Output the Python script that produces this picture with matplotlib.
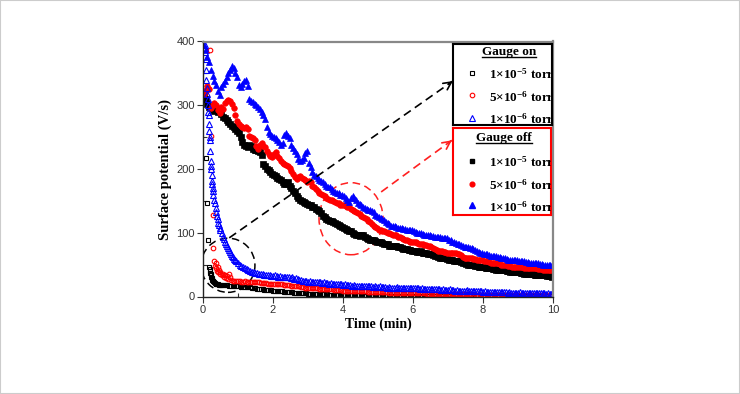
import numpy as np
import matplotlib
matplotlib.use("Agg")
import matplotlib.pyplot as plt
from matplotlib.patches import Ellipse, Rectangle
from matplotlib.lines import Line2D
from matplotlib.transforms import IdentityTransform

plt.rcParams["mathtext.default"] = "regular"

# ---------------- data ----------------
# Gauge off (filled markers), sampled every 0.05 min
t_off = np.round(np.arange(0.025, 10.0, 0.05), 3)
v_off_1e5 = [314, 310, 302, 298, 296, 294, 291, 293, 290, 294,
             286, 282, 280, 277, 274, 270, 268, 266, 262, 259,
             256, 250, 242, 238, 236, 234, 238, 236, 232, 230,
             230, 228, 226, 222, 208, 204, 200, 198, 195, 192,
             190, 189, 186, 184, 182, 180, 176, 177, 179, 174,
             170, 166, 163, 158, 155, 152, 150, 148, 146, 145,
             144, 143, 141, 140, 138, 136, 134, 131, 127, 124,
             122, 120, 119, 118, 117, 115, 113, 112, 110, 109,
             107, 106, 104, 103, 102, 100, 98, 97, 96, 95,
             97, 96, 94, 92, 90, 89, 89, 88, 87, 86,
             85, 85, 84, 83, 83, 82, 80, 80, 79, 79,
             80, 78, 77, 76, 75, 75, 74, 73, 73, 72,
             72, 71, 70, 70, 71, 69, 68, 68, 67, 66,
             66, 65, 63, 63, 62, 61, 61, 60, 60, 59,
             58, 58, 57, 56, 56, 55, 55, 54, 52, 52,
             51, 50, 50, 49, 49, 48, 48, 47, 47, 46,
             46, 45, 45, 44, 44, 43, 43, 42, 42, 41,
             41, 41, 41, 40, 40, 39, 39, 39, 39, 38,
             38, 37, 37, 36, 36, 35, 35, 35, 35, 34,
             34, 34, 33, 33, 33, 33, 32, 32, 32, 31]
v_off_5e6 = [318, 324, 330, 326, 296, 300, 303, 300, 292, 288,
             298, 294, 304, 306, 308, 306, 302, 296, 284, 276,
             270, 268, 266, 264, 266, 262, 252, 250, 248, 246,
             236, 232, 238, 240, 236, 234, 228, 224, 221, 219,
             224, 226, 220, 218, 213, 210, 208, 206, 205, 202,
             197, 192, 187, 185, 188, 189, 186, 184, 182, 180,
             181, 179, 174, 171, 168, 166, 163, 161, 159, 157,
             155, 153, 152, 151, 150, 149, 147, 146, 144, 143,
             143, 142, 141, 140, 138, 136, 134, 133, 131, 129,
             127, 125, 123, 121, 119, 117, 113, 111, 109, 107,
             105, 104, 103, 102, 101, 100, 99, 98, 97, 97,
             96, 94, 93, 91, 90, 89, 88, 87, 86, 86,
             85, 85, 84, 83, 82, 82, 81, 81, 80, 79,
             78, 76, 75, 73, 72, 72, 71, 70, 70, 69,
             69, 68, 68, 68, 68, 67, 67, 65, 62, 61,
             60, 61, 61, 60, 59, 59, 58, 58, 57, 57,
             56, 56, 55, 54, 53, 53, 52, 52, 52, 51,
             50, 50, 49, 49, 48, 48, 47, 47, 47, 46,
             46, 46, 46, 45, 45, 45, 45, 44, 44, 44,
             44, 43, 43, 43, 42, 42, 42, 42, 41, 41]
v_off_1e6 = [395, 386, 375, 368, 356, 346, 338, 332, 322, 316,
             328, 334, 338, 344, 350, 356, 362, 358, 350, 344,
             332, 328, 334, 338, 340, 330, 310, 306, 305, 302,
             301, 298, 294, 290, 284, 278, 266, 258, 255, 252,
             250, 248, 245, 242, 238, 240, 254, 256, 252, 248,
             238, 233, 228, 224, 216, 212, 214, 218, 225, 229,
             210, 203, 195, 191, 189, 186, 183, 181, 179, 176,
             174, 172, 171, 169, 166, 164, 163, 162, 160, 159,
             157, 154, 151, 149, 155, 157, 154, 152, 147, 145,
             144, 141, 139, 137, 136, 135, 134, 132, 128, 126,
             125, 123, 122, 120, 117, 115, 113, 111, 110, 110,
             109, 108, 107, 107, 106, 106, 105, 105, 104, 104,
             102, 101, 100, 100, 99, 98, 97, 97, 96, 96,
             95, 95, 94, 94, 93, 93, 92, 92, 91, 91,
             89, 88, 86, 85, 84, 83, 82, 81, 79, 78,
             77, 77, 76, 76, 75, 73, 71, 70, 69, 68,
             67, 67, 66, 65, 64, 64, 63, 63, 62, 62,
             61, 61, 60, 59, 58, 58, 57, 57, 57, 57,
             56, 56, 55, 55, 54, 54, 53, 53, 52, 52,
             52, 52, 51, 51, 50, 50, 50, 50, 49, 49]

# Gauge on (open markers): fast initial decay, then 0.05-min tail from 2 to 9.95 min
t_on_tail = np.round(np.arange(2.0, 9.99, 0.05), 3)

t_on_1e5_head = [0.10, 0.12, 0.15, 0.18, 0.19, 0.20, 0.21, 0.22, 0.23, 0.24,
                 0.25, 0.26, 0.27, 0.28, 0.30, 0.32, 0.34, 0.36, 0.38, 0.40,
                 0.43, 0.46, 0.49, 0.52, 0.55, 0.60, 0.65, 0.70, 0.75, 0.80,
                 0.85, 0.90, 0.95, 1.00, 1.05, 1.10, 1.15, 1.20, 1.25, 1.30,
                 1.35, 1.40, 1.45, 1.50, 1.55, 1.60, 1.65, 1.70, 1.75, 1.80,
                 1.85, 1.90, 1.95]
v_on_1e5_head = [217, 146, 89, 47, 43, 40, 37, 35, 33, 31,
                 29, 27, 26, 25, 24, 22, 21, 20, 20, 19,
                 19, 18.5, 18.5, 18, 18, 18, 17.5, 17.5, 17, 17,
                 17, 16.5, 16.5, 16, 16, 15.5, 15.5, 15, 15, 15,
                 14.5, 14, 13.5, 13, 12.5, 12, 11.5, 11, 10.5, 10,
                 10, 9.5, 9.5]
v_on_1e5_tail = [9, 9, 8.5, 8.5, 8, 8, 7.5, 7.5, 7, 7,
                 6.5, 6.5, 6, 6, 5.5, 5.5, 5, 5, 5, 5,
                 4.5, 4.5, 4.5, 4.5, 4, 4, 4, 4, 3.5, 3.5,
                 3.5, 3.5, 3, 3, 3, 3, 2.5, 2.5, 2.5, 2.5,
                 2.2, 2.2, 2, 2, 2, 2, 1.8, 1.8, 1.6, 1.6,
                 1.5, 1.5, 1.4, 1.4, 1.3, 1.3, 1.2, 1.2, 1.1, 1.1,
                 1, 1, 1, 1, 1, 1, 1, 1, 1, 1,
                 1, 1, 1, 1, 1, 1, 1, 1, 1, 1,
                 1, 1, 1, 1, 1, 1, 1, 1, 1, 1,
                 1, 1, 1, 1, 1, 1, 1, 1, 1, 1,
                 1, 1, 1, 1, 1, 1, 1, 1, 1, 1,
                 1, 1, 1, 1, 1, 1, 1, 1, 1, 1,
                 1, 1, 1, 1, 1, 1, 1, 1, 1, 1,
                 1, 1, 1, 1, 1, 1, 1, 1, 1, 1,
                 1, 1, 1, 1, 1, 1, 1, 1, 1, 1,
                 1, 1, 1, 1, 1, 1, 1, 1, 1, 1]

t_on_5e6_head = [0.19, 0.24, 0.29, 0.30, 0.32, 0.34, 0.36, 0.38, 0.40, 0.42,
                 0.44, 0.46, 0.48, 0.50, 0.53, 0.56, 0.59, 0.62, 0.65, 0.68,
                 0.71, 0.74, 0.77, 0.80, 0.85, 0.90, 0.95, 1.00, 1.05, 1.10,
                 1.15, 1.20, 1.25, 1.30, 1.35, 1.40, 1.45, 1.50, 1.55, 1.60,
                 1.65, 1.70, 1.75, 1.80, 1.85, 1.90, 1.95]
v_on_5e6_head = [387, 252, 128, 76, 55, 48, 52, 44, 40, 46,
                 38, 42, 35, 38, 33, 36, 31, 34, 29, 32,
                 28, 35, 30, 26, 25, 24, 25, 24, 24, 23,
                 23, 24, 23, 23, 23, 23, 22, 22, 22, 22,
                 21, 21, 21, 21, 20, 20, 20]
v_on_5e6_tail = [20, 20, 19, 19, 19, 19, 18, 18, 18, 18,
                 17, 17, 16, 16, 16, 16, 15, 15, 14, 14,
                 14, 14, 13, 13, 13, 13, 12, 12, 12, 12,
                 12, 11, 11, 11, 11, 10, 10, 10, 10, 10,
                 9, 9, 9, 9, 9, 9, 8, 8, 8, 8,
                 8, 8, 8, 8, 7, 7, 7, 7, 7, 7,
                 7, 7, 6.5, 6.5, 6.5, 6.5, 6, 6, 6, 6,
                 6, 6, 6, 6, 5.5, 5.5, 5.5, 5.5, 5.5, 5.5,
                 5, 5, 5, 5, 5, 5, 5, 5, 4.5, 4.5,
                 4.5, 4.5, 4.5, 4.5, 4.5, 4.5, 4, 4, 4, 4,
                 4, 4, 4, 4, 4, 4, 3.5, 3.5, 3.5, 3.5,
                 3.5, 3.5, 3.5, 3.5, 3, 3, 3, 3, 3, 3,
                 3, 3, 3, 3, 3, 3, 2.5, 2.5, 2.5, 2.5,
                 2.5, 2.5, 2.5, 2.5, 2.5, 2.5, 2.5, 2.5, 2.5, 2.5,
                 2, 2, 2, 2, 2, 2, 2, 2, 2, 2,
                 2, 2, 2, 2, 2, 2, 2, 2, 2, 2]

t_on_1e6_head = [0.05, 0.06, 0.07, 0.08, 0.09, 0.10, 0.11, 0.12, 0.13, 0.14,
                 0.15, 0.16, 0.17, 0.18, 0.19, 0.20, 0.21, 0.22, 0.23, 0.24,
                 0.25, 0.26, 0.27, 0.28, 0.29, 0.30, 0.32, 0.34, 0.36, 0.38,
                 0.40, 0.42, 0.44, 0.46, 0.48, 0.50, 0.53, 0.56, 0.59, 0.62,
                 0.65, 0.68, 0.71, 0.74, 0.77, 0.80, 0.83, 0.86, 0.89, 0.92,
                 0.95, 1.00, 1.05, 1.10, 1.15, 1.20, 1.25, 1.30, 1.35, 1.40,
                 1.45, 1.50, 1.55, 1.60, 1.65, 1.70, 1.75, 1.80, 1.85, 1.90,
                 1.95]
v_on_1e6_head = [395, 390, 383, 372, 355, 340, 327, 318, 310, 301,
                 290, 284, 270, 260, 250, 245, 228, 212, 205, 200,
                 190, 181, 176, 170, 165, 160, 152, 146, 139, 132,
                 126, 121, 116, 112, 108, 104, 99, 94, 90, 86,
                 83, 79, 76, 73, 70, 67, 64, 62, 59, 57,
                 55, 52, 50, 48, 46, 45, 43, 42, 40, 39,
                 38, 37, 37, 36, 35, 35, 34, 34, 33, 33,
                 32]
v_on_1e6_tail = [32, 33, 32, 31, 32, 31, 31, 30, 31, 30,
                 29, 30, 28, 29, 27, 26, 26, 25, 24, 25,
                 23, 24, 23, 23, 22, 23, 22, 22, 21, 22,
                 21, 21, 20, 21, 20, 20, 19, 20, 19, 19,
                 18, 19, 18, 18, 18, 17, 18, 17, 17, 17,
                 17, 16, 17, 16, 16, 16, 16, 15, 16, 15,
                 15, 16, 15, 15, 15, 14, 15, 14, 14, 14,
                 14, 15, 14, 13, 14, 13, 13, 14, 13, 13,
                 13, 14, 13, 13, 12, 13, 12, 12, 12, 12,
                 11, 12, 11, 11, 11, 11, 10, 11, 10, 10,
                 10, 11, 10, 10, 9, 10, 9, 9, 9, 9,
                 9, 10, 8, 9, 8, 8, 8, 9, 8, 8,
                 7.5, 8, 7, 7.5, 7, 7, 7, 7.5, 7, 7,
                 6.5, 7, 6.5, 6.5, 6, 6.5, 6, 6, 6, 6,
                 6, 6.5, 5.5, 6, 5.5, 5.5, 5.5, 6, 5, 5,
                 5, 5.5, 5, 5, 5, 5, 4.5, 5, 4.5, 4.5]

pressure_labels = ["1×10$^{-5}$ torr", "5×10$^{-6}$ torr", "1×10$^{-6}$ torr"]
legend_titles = ["Gauge on", "Gauge off"]
x_ticks = [0, 2, 4, 6, 8, 10]
y_ticks = [0, 100, 200, 300, 400]

# annotation geometry (data units)
circle_on = dict(center=(0.714, 49), width=1.54, height=85)
circle_off = dict(center=(4.23, 122), width=1.83, height=113)
arrow_on = dict(start=(0.75, 92), end=(7.14, 338))
arrow_off = dict(start=(5.09, 164), end=(7.11, 245))

colors = ["black", "#ff0000", "#0000ff"]
markers = ["s", "o", "^"]
off_sizes = [3.8, 4.0, 4.8]
on_sizes = [3.1, 3.3, 3.9]

# ---------------- figure ----------------
fig = plt.figure(figsize=(7.4, 3.94), dpi=100)
fig.patches.append(Rectangle((0, 0), 1, 1, transform=fig.transFigure, fill=False,
                             edgecolor="#cccccc", linewidth=1.5))

ax = fig.add_axes([203 / 740, 1 - 296.5 / 394, 350 / 740, 255 / 394])

off_series = [v_off_1e5, v_off_5e6, v_off_1e6]
for v, c, m, s in zip(off_series, colors, markers, off_sizes):
    ax.plot(t_off, v, linestyle="none", marker=m, ms=s, color=c, mec=c, mew=0.5)

on_series = [(t_on_1e5_head, v_on_1e5_head, v_on_1e5_tail),
             (t_on_5e6_head, v_on_5e6_head, v_on_5e6_tail),
             (t_on_1e6_head, v_on_1e6_head, v_on_1e6_tail)]
for (th, vh, vt), c, m, s in zip(on_series, colors, markers, on_sizes):
    tt = np.concatenate([th, t_on_tail])
    vv = np.concatenate([vh, vt])
    ax.plot(tt, vv, linestyle="none", marker=m, ms=s, mfc="none", mec=c, mew=0.8)

# dashed circles and arrows
dash = (0, (5, 3))
ax.add_patch(Ellipse(circle_on["center"], circle_on["width"], circle_on["height"],
                     fill=False, edgecolor="black", linestyle=dash, linewidth=1.1))
ax.add_patch(Ellipse(circle_off["center"], circle_off["width"], circle_off["height"],
                     fill=False, edgecolor="#ff2020", linestyle=dash, linewidth=1.1))
for arr, c in [(arrow_on, "black"), (arrow_off, "#ff2020")]:
    (x0, y0), (x1, y1) = arr["start"], arr["end"]
    ax.plot([x0, x1], [y0, y1], color=c, linestyle=dash, linewidth=1.2)
    ax.annotate("", xy=(x1, y1), xytext=(x1 - 0.02 * (x1 - x0), y1 - 0.02 * (y1 - y0)),
                arrowprops=dict(arrowstyle="->", color=c, lw=1.2,
                                mutation_scale=14, shrinkA=0, shrinkB=0))

ax.set_xlim(0, 10)
ax.set_ylim(0, 400)
ax.set_xticks(x_ticks)
ax.set_yticks(y_ticks)
ax.set_xticks([1, 3, 5, 7, 9], minor=True)
ax.set_yticks([50, 150, 250, 350], minor=True)
ax.tick_params(which="major", direction="out", length=4, width=0.8,
               colors="#333333", labelsize=8, pad=2)
ax.tick_params(which="minor", direction="in", length=3, width=0.8, colors="#333333")
for lab in ax.get_xticklabels() + ax.get_yticklabels():
    lab.set_fontfamily("Liberation Sans")

for side in ["left", "bottom"]:
    ax.spines[side].set_color("#222222")
    ax.spines[side].set_linewidth(1.0)
for side in ["top", "right"]:
    ax.spines[side].set_color("#888888")
    ax.spines[side].set_linewidth(1.6)

ax.set_xlabel("Time (min)", fontdict=dict(family="Liberation Serif", weight="bold", size=10),
              labelpad=2)
ax.set_ylabel("Surface potential (V/s)",
              fontdict=dict(family="Liberation Serif", weight="bold", size=10.5), labelpad=3)

# ---------------- legend boxes ----------------
legend_font = dict(family="Liberation Serif", weight="bold", size=9.5)
title_texts = []


def legend_box(rect, edge, title, title_x, title_y, rows_y, filled, sizes):
    lax = fig.add_axes(rect)
    lax.set_xlim(0, 1)
    lax.set_ylim(0, 1)
    lax.set_xticks([])
    lax.set_yticks([])
    lax.patch.set_facecolor("white")
    for s in lax.spines.values():
        s.set_color(edge)
        s.set_linewidth(1.5)
    t = lax.text(title_x, title_y, title, ha="center", va="center", clip_on=True,
                 **legend_font)
    title_texts.append(t)
    for lab, c, m, s, ry in zip(pressure_labels, colors, markers, sizes, rows_y):
        if filled:
            lax.plot([0.19], [ry], linestyle="none", marker=m, ms=s * 0.85, color=c, mec=c)
        else:
            lax.plot([0.19], [ry], linestyle="none", marker=m, ms=s, mfc="none",
                     mec=c, mew=0.8)
        lax.text(0.365, ry, lab, ha="left", va="center_baseline", clip_on=True,
                 **legend_font)


legend_box([453 / 740, 1 - 125 / 394, 99 / 740, 81 / 394], "black", legend_titles[0],
           0.566, 0.905, [0.64, 0.365, 0.09], False, on_sizes)
legend_box([453 / 740, 1 - 215 / 394, 98 / 740, 87 / 394], "#ff0000", legend_titles[1],
           0.52, 0.88, [0.62, 0.36, 0.11], True, off_sizes)

# underline the legend titles
fig.canvas.draw()
renderer = fig.canvas.get_renderer()
for t in title_texts:
    bb = t.get_window_extent(renderer)
    yline = bb.y0 + 1
    fig.add_artist(Line2D([bb.x0, bb.x1], [yline, yline], transform=IdentityTransform(),
                          color="black", linewidth=1.0))

fig.savefig("out.png", dpi=100)
